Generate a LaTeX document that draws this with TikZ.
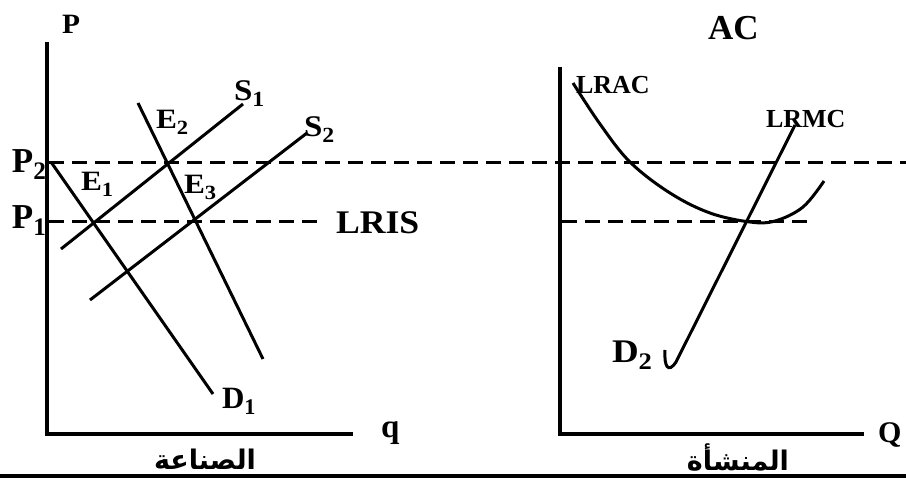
\documentclass[tikz,border=0pt]{standalone}
\usepackage{fontspec}
\setmainfont{Liberation Serif}
\newfontfamily\arabicfont[Script=Arabic]{DejaVu Sans}
\TeXXeTstate=1
\newcommand{\sbx}[1]{\raisebox{-0.22em}{\scalebox{0.72}{#1}}}
\newcommand{\fs}[3]{\scalebox{#2}[1]{\fontsize{#1}{#1}\selectfont\bfseries #3}}
\begin{document}
\begin{tikzpicture}[x=1pt,y=-1pt,
  axisline/.style={line width=4pt,line join=miter},
  curve/.style={line width=3pt},
  dashline/.style={line width=3pt,dash pattern=on 15pt off 8pt},
  lab/.style={anchor=base west,inner sep=0pt,outer sep=0pt},
  arab/.style={inner sep=0pt,font=\arabicfont\bfseries\fontsize{27}{27}\selectfont}]
\useasboundingbox (0,0) rectangle (906,479);
% ---------- left panel ----------
\coordinate (LT) at (47,42);
\coordinate (LO) at (47,434);
\coordinate (LR) at (353,434);
\draw[axisline] (LT) -- (LO) -- (LR);
\coordinate (P2a) at (49,162);
\coordinate (P2b) at (906,162);
\draw[dashline] (P2a) -- (P2b);
\coordinate (P1a) at (49,221);
\coordinate (P1b) at (323,221);
\draw[dashline] (P1a) -- (P1b);
% supply curves
\coordinate (S1a) at (61,249);
\coordinate (S1b) at (243,104);
\draw[curve] (S1a) -- (S1b);
\coordinate (S2a) at (90,300);
\coordinate (S2b) at (307,133);
\draw[curve] (S2a) -- (S2b);
% demand curves
\coordinate (D1a) at (51,162);
\coordinate (D1b) at (213,394);
\draw[curve] (D1a) -- (D1b);
\coordinate (Dxa) at (138,103);
\coordinate (Dxb) at (263,359);
\draw[curve] (Dxa) -- (Dxb);
% labels
\node[lab] (lP) at (62,33) {\fs{28}{1.05}{P}};
\node[lab] (lP2) at (12,172) {\fs{35}{1}{P\sbx{2}}};
\node[lab] (lP1) at (12,228) {\fs{35}{1}{P\sbx{1}}};
\node[lab] (lE1) at (81,190) {\fs{28}{1.12}{E\sbx{1}}};
\node[lab] (lE2) at (156,128) {\fs{28}{1.12}{E\sbx{2}}};
\node[lab] (lE3) at (184,193) {\fs{28}{1.12}{E\sbx{3}}};
\node[lab] (lS1) at (234,100) {\fs{30}{1.1}{S\sbx{1}}};
\node[lab] (lS2) at (304,136) {\fs{30}{1.1}{S\sbx{2}}};
\node[lab] (lLRIS) at (336,233) {\fs{33}{1.08}{LRIS}};
\node[lab] (lD1) at (222,408) {\fs{31}{1}{D\sbx{1}}};
\node[lab] (lq) at (381,437) {\fs{33}{1}{q}};
\node[arab] (lInd) at (205,459) {\beginR الصناعة\endR};
% ---------- right panel ----------
\coordinate (RT) at (560,67);
\coordinate (RO) at (560,434);
\coordinate (RR) at (864,434);
\draw[axisline] (RT) -- (RO) -- (RR);
\coordinate (R1a) at (562,221);
\coordinate (R1b) at (814,221);
\draw[dashline] (R1a) -- (R1b);
\draw[curve] plot[smooth,tension=0.6] coordinates {(573,83) (600,124) (630,162) (670,193) (710,213) (750,222) (775,221) (803,207) (824,181)};
\coordinate (MCa) at (665,350);
\coordinate (MCm) at (676,362);
\coordinate (MCb) at (795,125);
\draw[curve] (MCa) .. controls (664,366) and (668,374) .. (MCm) -- (MCb);
\node[lab] (lAC) at (708,39) {\fs{35}{1}{AC}};
\node[lab] (lLRAC) at (576,93) {\fs{26}{1}{LRAC}};
\node[lab] (lLRMC) at (766,127) {\fs{26}{1}{LRMC}};
\node[lab] (lD2) at (612,362) {\fs{33}{1.12}{D\sbx{2}}};
\node[lab] (lQ) at (878,442) {\fs{30}{1}{Q}};
\node[arab] (lFirm) at (738,457) {\beginR المنشأة\endR};
% bottom rule
\coordinate (BRa) at (0,476);
\coordinate (BRb) at (906,476);
\draw[line width=4pt] (BRa) -- (BRb);
\end{tikzpicture}
\end{document}
